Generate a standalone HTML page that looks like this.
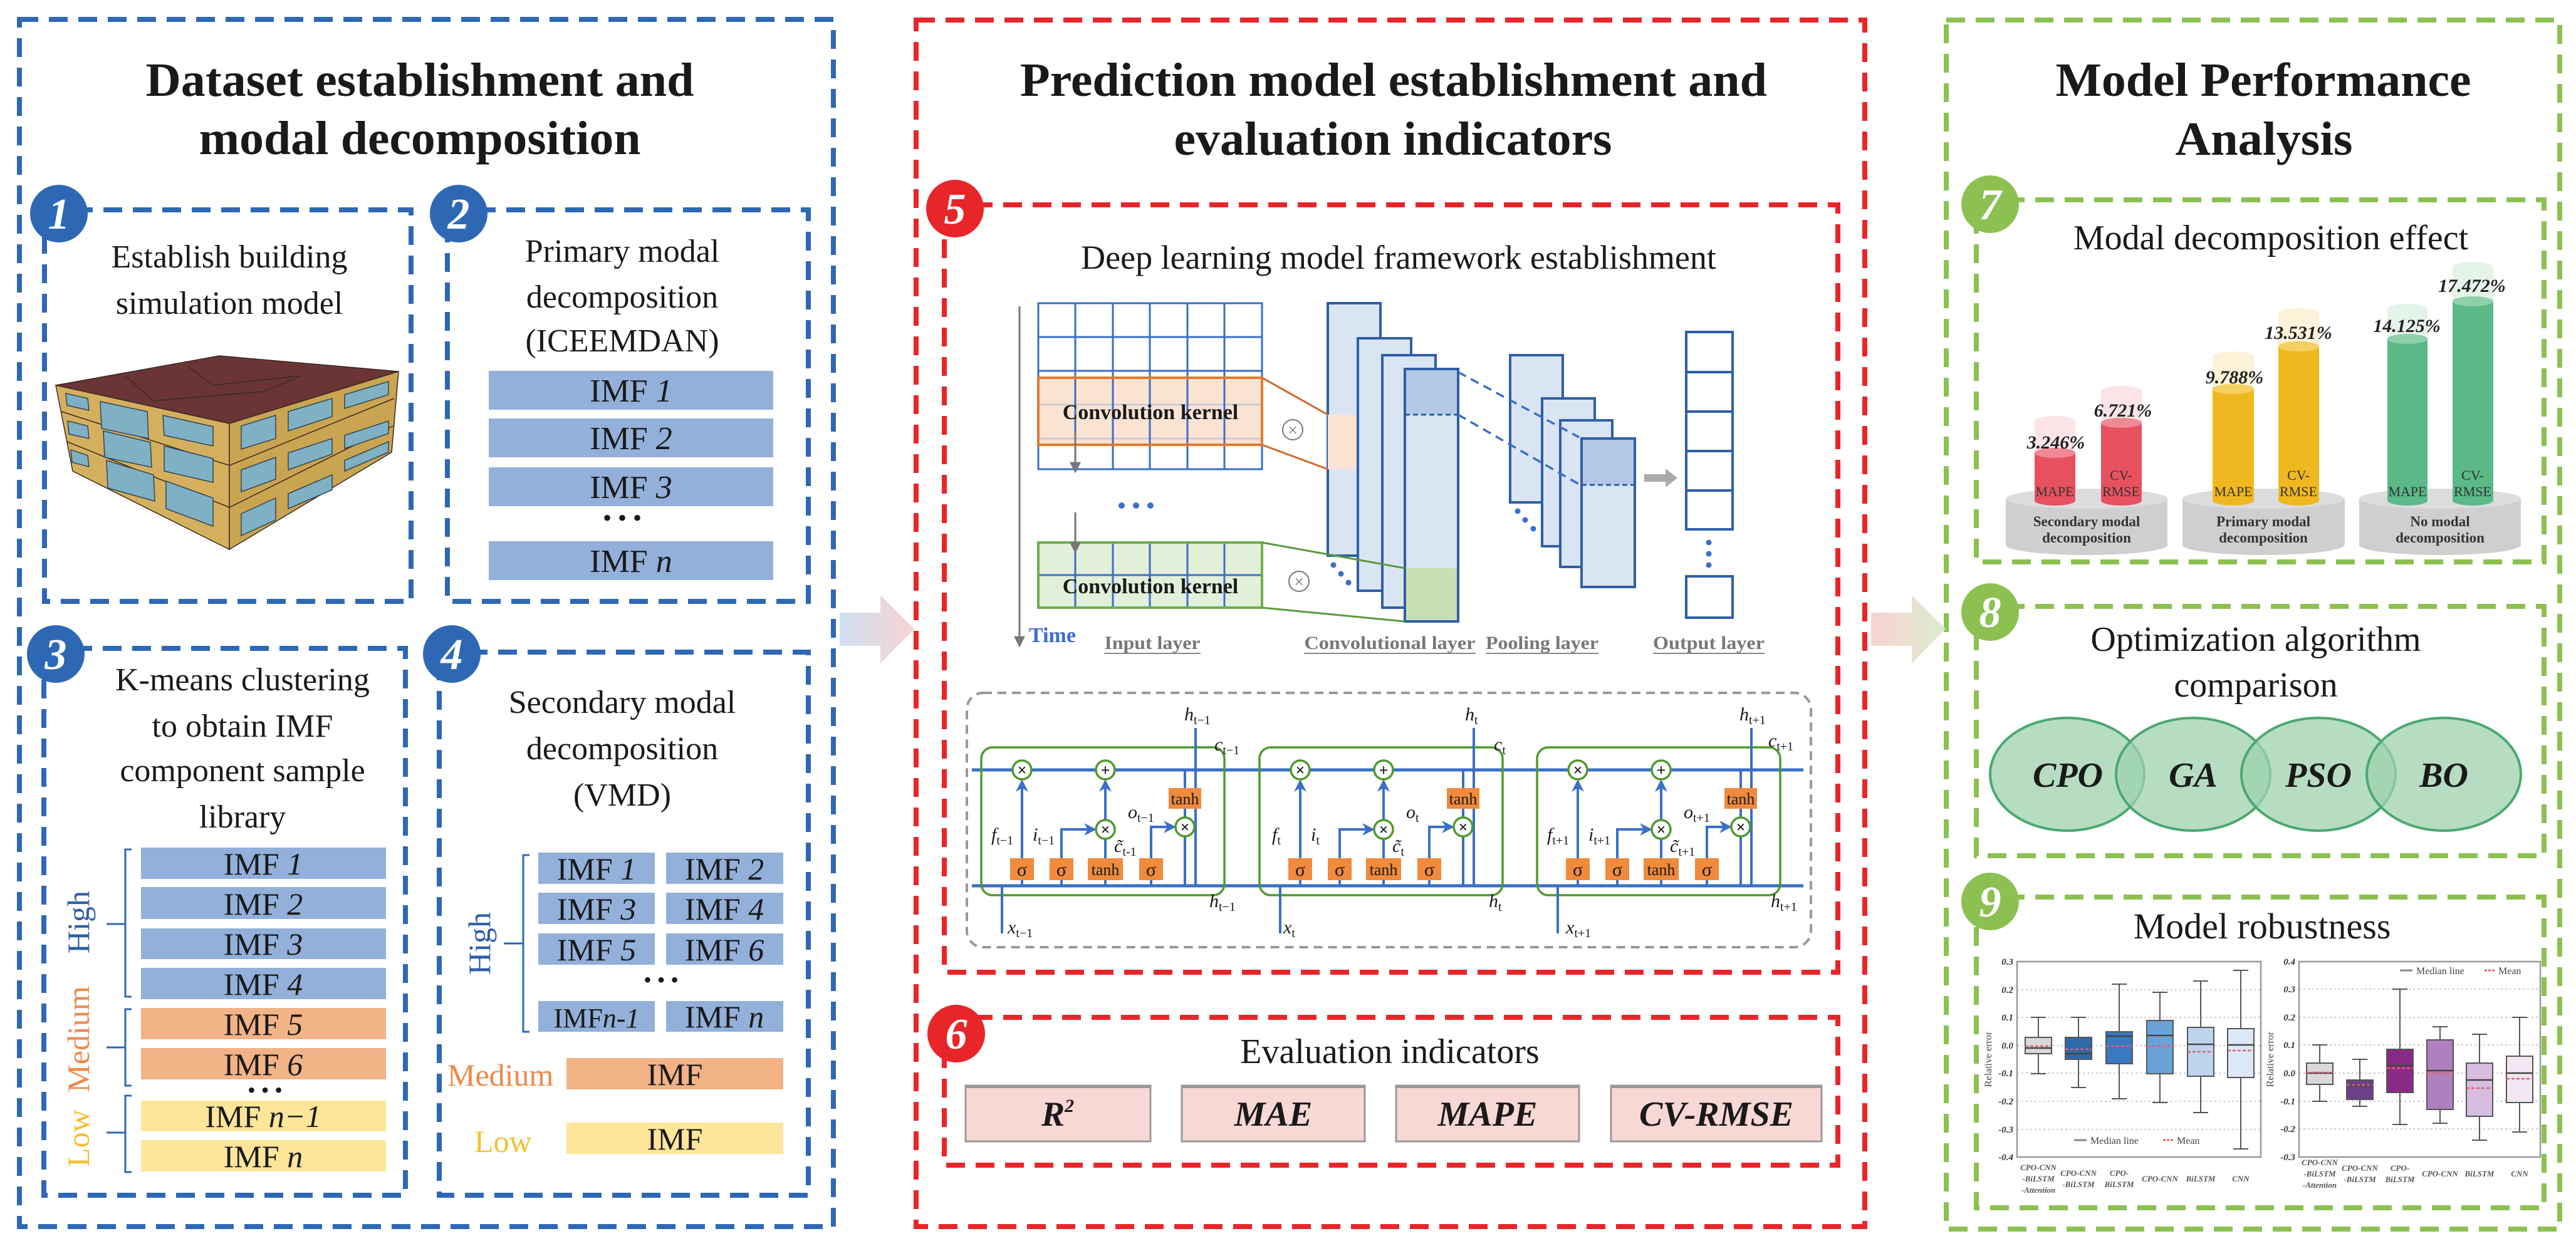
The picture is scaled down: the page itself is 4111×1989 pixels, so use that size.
<!DOCTYPE html>
<html><head><meta charset="utf-8"><style>
html,body{margin:0;padding:0;background:#fff;}
svg{display:block;}
text{font-family:"Liberation Serif",serif;}
</style></head><body>
<svg width="4111" height="1989" viewBox="0 0 4111 1989" xmlns="http://www.w3.org/2000/svg">
<defs>
<marker id="ab" viewBox="0 0 10 10" refX="8" refY="5" markerWidth="5" markerHeight="5" orient="auto"><path d="M0,0 L10,5 L0,10 L3,5 z" fill="#3a6fc7"/></marker>
<marker id="ag" viewBox="0 0 10 10" refX="8" refY="5" markerWidth="6" markerHeight="6" orient="auto"><path d="M0,0 L10,5 L0,10 z" fill="#777"/></marker>
<linearGradient id="g1" x1="0" x2="1" y1="0" y2="0"><stop offset="0" stop-color="#cfe0f3"/><stop offset="1" stop-color="#f8d3cf"/></linearGradient>
<linearGradient id="g2" x1="0" x2="1" y1="0" y2="0"><stop offset="0" stop-color="#f8d3cf"/><stop offset="1" stop-color="#dcecd0"/></linearGradient>
</defs>
<rect width="4111" height="1989" fill="#fff"/>

<g fill="none" stroke-width="8" stroke-dasharray="30 17">
<rect x="31" y="31" width="1299" height="1927" stroke="#2e68b5"/>
<rect x="1462" y="32" width="1514" height="1926" stroke="#e8262a"/>
<rect x="3106" y="32" width="979" height="1930" stroke="#8cc152"/>
</g>

<polygon points="1340,978 1405,978 1405,950 1459,1004 1405,1059 1405,1031 1340,1031" fill="url(#g1)"/>
<polygon points="2986,978 3051,978 3051,950 3105,1004 3051,1059 3051,1031 2986,1031" fill="url(#g2)"/>

<g font-weight="bold" font-size="76" fill="#1a1a1a" text-anchor="middle">
<text x="670" y="153" textLength="875" lengthAdjust="spacingAndGlyphs">Dataset establishment and</text>
<text x="670" y="246" textLength="705" lengthAdjust="spacingAndGlyphs">modal decomposition</text>
<text x="2224" y="153" textLength="1192" lengthAdjust="spacingAndGlyphs">Prediction model establishment and</text>
<text x="2223" y="247" textLength="699" lengthAdjust="spacingAndGlyphs">evaluation indicators</text>
<text x="3612" y="153" textLength="663" lengthAdjust="spacingAndGlyphs">Model Performance</text>
<text x="3613" y="247" textLength="283" lengthAdjust="spacingAndGlyphs">Analysis</text>
</g>

<g fill="none" stroke-width="8" stroke-dasharray="30 17">
<g stroke="#2e68b5">
<rect x="71" y="335" width="585" height="625"/>
<rect x="714" y="335" width="576" height="625"/>
<rect x="70" y="1035" width="577" height="873"/>
<rect x="701" y="1041" width="589" height="867"/>
</g>
<g stroke="#e8262a">
<rect x="1507" y="327" width="1426" height="1225"/>
<rect x="1507" y="1624" width="1426" height="236"/>
</g>
<g stroke="#8cc152">
<rect x="3154" y="319" width="906" height="578"/>
<rect x="3154" y="968" width="906" height="398"/>
<rect x="3154" y="1432" width="906" height="496"/>
</g>
</g>

<g font-weight="bold" font-style="italic" font-size="70" fill="#fff" text-anchor="middle">
<circle cx="94" cy="341" r="46" fill="#2e68b5"/><text x="94" y="365">1</text>
<circle cx="732" cy="341" r="46" fill="#2e68b5"/><text x="732" y="365">2</text>
<circle cx="89" cy="1044" r="46" fill="#2e68b5"/><text x="89" y="1068">3</text>
<circle cx="721" cy="1044" r="46" fill="#2e68b5"/><text x="721" y="1068">4</text>
<circle cx="1524" cy="333" r="46" fill="#e8262a"/><text x="1524" y="357">5</text>
<circle cx="1526" cy="1650" r="46" fill="#e8262a"/><text x="1526" y="1674">6</text>
<circle cx="3176" cy="326" r="46" fill="#8cc152"/><text x="3176" y="350">7</text>
<circle cx="3176" cy="977" r="46" fill="#8cc152"/><text x="3176" y="1001">8</text>
<circle cx="3176" cy="1439" r="46" fill="#8cc152"/><text x="3176" y="1463">9</text>
</g>

<g font-size="52" fill="#1a1a1a" text-anchor="middle">
<text x="366" y="427">Establish building</text>
<text x="366" y="501">simulation model</text>
</g>
<g stroke="#3a2a20" stroke-width="1.5">
<polygon points="89,615 350,568 636,593 366,676" fill="#6b3535"/>
<polygon points="89,615 366,676 366,877 116,752" fill="#d4b05e"/>
<polygon points="366,676 636,593 625,722 366,877" fill="#c9a552"/>
<polyline points="98,657 366,743 629,636" fill="none"/>
<polyline points="107,705 366,810 627,680" fill="none"/>
<polyline points="200,600 245,640 420,625 470,605" fill="none"/>
<polyline points="300,585 340,615 480,600" fill="none"/>
</g>
<g fill="#7fb0c4" stroke="#345" stroke-width="1.5">
<polygon points="105,628 140,636 142,655 107,647"/><polygon points="160,641 235,657 237,700 162,684"/><polygon points="260,663 340,681 340,712 262,695"/>
<polygon points="108,672 140,680 142,700 110,693"/><polygon points="165,688 240,706 242,746 167,730"/><polygon points="262,712 340,732 340,770 262,752"/>
<polygon points="113,718 140,727 142,745 115,738"/><polygon points="170,735 245,758 247,800 172,779"/><polygon points="265,768 340,795 340,840 265,812"/>
<polygon points="385,680 440,663 440,700 385,717"/><polygon points="460,657 530,636 530,665 460,688"/><polygon points="550,630 620,609 620,630 550,652"/>
<polygon points="385,750 440,730 440,765 385,785"/><polygon points="460,723 530,700 530,725 460,750"/><polygon points="550,695 620,672 620,692 550,716"/>
<polygon points="385,820 440,795 440,830 385,855"/><polygon points="460,788 530,758 530,782 460,812"/><polygon points="550,752 620,722 620,705 550,735"/>
</g>

<g font-size="52" fill="#1a1a1a" text-anchor="middle">
<text x="993" y="418">Primary modal</text>
<text x="993" y="491">decomposition</text>
<text x="993" y="561">(ICEEMDAN)</text>
</g>
<g fill="#92b0d9">
<rect x="780" y="592" width="454" height="62"/>
<rect x="780" y="668" width="454" height="62"/>
<rect x="780" y="746" width="454" height="62"/>
<rect x="780" y="864" width="454" height="62"/>
</g>
<g font-size="52" fill="#1a1a1a" text-anchor="middle">
<text x="1007" y="641">IMF <tspan font-style="italic">1</tspan></text>
<text x="1007" y="717">IMF <tspan font-style="italic">2</tspan></text>
<text x="1007" y="795">IMF <tspan font-style="italic">3</tspan></text>
<text x="993" y="840" font-size="40">• • •</text>
<text x="1007" y="913">IMF <tspan font-style="italic">n</tspan></text>
</g>

<g font-size="52" fill="#1a1a1a" text-anchor="middle">
<text x="387" y="1102">K-means clustering</text>
<text x="387" y="1176">to obtain IMF</text>
<text x="387" y="1247">component sample</text>
<text x="387" y="1321">library</text>
</g>
<g>
<rect x="225" y="1353" width="391" height="50" fill="#92b0d9"/>
<rect x="225" y="1416" width="391" height="51" fill="#92b0d9"/>
<rect x="225" y="1482" width="391" height="49" fill="#92b0d9"/>
<rect x="225" y="1545" width="391" height="50" fill="#92b0d9"/>
<rect x="225" y="1609" width="391" height="50" fill="#f2b387"/>
<rect x="225" y="1673" width="391" height="50" fill="#f2b387"/>
<rect x="225" y="1757" width="391" height="49" fill="#fde59a"/>
<rect x="225" y="1820" width="391" height="50" fill="#fde59a"/>
</g>
<g font-size="50" fill="#1a1a1a" text-anchor="middle">
<text x="420" y="1396">IMF <tspan font-style="italic">1</tspan></text>
<text x="420" y="1460">IMF <tspan font-style="italic">2</tspan></text>
<text x="420" y="1524">IMF <tspan font-style="italic">3</tspan></text>
<text x="420" y="1588">IMF <tspan font-style="italic">4</tspan></text>
<text x="420" y="1652">IMF <tspan font-style="italic">5</tspan></text>
<text x="420" y="1716">IMF <tspan font-style="italic">6</tspan></text>
<text x="423" y="1752" font-size="36">• • •</text>
<text x="420" y="1799">IMF <tspan font-style="italic">n−1</tspan></text>
<text x="420" y="1863">IMF <tspan font-style="italic">n</tspan></text>
</g>
<g fill="none" stroke-width="3">
<path d="M210,1356 H200 V1591 H210 M200,1475 H170" stroke="#2e68b5"/>
<path d="M210,1611 H200 V1733 H210 M200,1672 H170" stroke="#2e68b5"/>
<path d="M210,1749 H200 V1871 H210 M200,1808 H170" stroke="#2e68b5"/>
</g>
<g font-size="50" text-anchor="middle">
<text transform="translate(142,1472) rotate(-90)" fill="#2e5ea8">High</text>
<text transform="translate(142,1659) rotate(-90)" fill="#ee8a4a">Medium</text>
<text transform="translate(142,1817) rotate(-90)" fill="#f5c030">Low</text>
</g>

<g font-size="52" fill="#1a1a1a" text-anchor="middle">
<text x="993" y="1138">Secondary modal</text>
<text x="993" y="1212">decomposition</text>
<text x="993" y="1286">(VMD)</text>
</g>
<g fill="#92b0d9">
<rect x="859" y="1361" width="186" height="50"/><rect x="1063" y="1361" width="187" height="50"/>
<rect x="859" y="1425" width="186" height="50"/><rect x="1063" y="1425" width="187" height="50"/>
<rect x="859" y="1490" width="186" height="50"/><rect x="1063" y="1490" width="187" height="50"/>
<rect x="859" y="1598" width="186" height="49"/><rect x="1063" y="1598" width="187" height="49"/>
</g>
<rect x="904" y="1689" width="346" height="50" fill="#f2b387"/>
<rect x="904" y="1792" width="346" height="50" fill="#fde59a"/>
<g font-size="50" fill="#1a1a1a" text-anchor="middle">
<text x="952" y="1404">IMF <tspan font-style="italic">1</tspan></text><text x="1156" y="1404">IMF <tspan font-style="italic">2</tspan></text>
<text x="952" y="1468">IMF <tspan font-style="italic">3</tspan></text><text x="1156" y="1468">IMF <tspan font-style="italic">4</tspan></text>
<text x="952" y="1533">IMF <tspan font-style="italic">5</tspan></text><text x="1156" y="1533">IMF <tspan font-style="italic">6</tspan></text>
<text x="1055" y="1576" font-size="36">• • •</text>
<text x="952" y="1640" font-size="44">IMF<tspan font-style="italic">n-1</tspan></text><text x="1156" y="1640">IMF <tspan font-style="italic">n</tspan></text>
<text x="1077" y="1732">IMF</text>
<text x="1077" y="1835">IMF</text>
</g>
<path d="M845,1365 H835 V1647 H845 M835,1506 H804" fill="none" stroke="#2e68b5" stroke-width="3"/>
<text transform="translate(782,1506) rotate(-90)" font-size="50" text-anchor="middle" fill="#2e5ea8">High</text>
<text x="714" y="1733" font-size="50" fill="#ee8a4a">Medium</text>
<text x="757" y="1839" font-size="50" fill="#f5c030">Low</text>

<text x="2232" y="429" font-size="54" text-anchor="middle" fill="#1a1a1a">Deep learning model framework establishment</text>
<line x1="1627" y1="489" x2="1627" y2="1030" stroke="#777" stroke-width="3" marker-end="url(#ag)"/>
<text x="1642" y="1025" font-size="34" font-weight="bold" fill="#3a6fc7">Time</text>
<rect x="1657" y="603" width="357" height="107" fill="#fbe3d3"/>
<rect x="1657" y="866" width="357" height="104" fill="#e2efd9"/>
<g stroke="#3a6fc7" stroke-width="3" fill="none">
<rect x="1657" y="484" width="357" height="265"/>
<line x1="1657" y1="538" x2="2014" y2="538"/><line x1="1657" y1="592" x2="2014" y2="592"/><line x1="1657" y1="646" x2="2014" y2="646" stroke="#c9c9d9"/><line x1="1657" y1="700" x2="2014" y2="700" stroke="#c9c9d9"/>
<line x1="1716" y1="484" x2="1716" y2="749"/><line x1="1776" y1="484" x2="1776" y2="749"/><line x1="1835" y1="484" x2="1835" y2="749"/><line x1="1895" y1="484" x2="1895" y2="749"/><line x1="1954" y1="484" x2="1954" y2="749"/>
<line x1="1657" y1="918" x2="2014" y2="918"/>
<line x1="1716" y1="866" x2="1716" y2="970"/><line x1="1776" y1="866" x2="1776" y2="970"/><line x1="1835" y1="866" x2="1835" y2="970"/><line x1="1895" y1="866" x2="1895" y2="970"/><line x1="1954" y1="866" x2="1954" y2="970"/>
</g>
<rect x="1657" y="603" width="357" height="107" fill="none" stroke="#e07b30" stroke-width="4"/>
<rect x="1657" y="866" width="357" height="104" fill="none" stroke="#6ab04c" stroke-width="4"/>
<g font-size="34" font-weight="bold" text-anchor="middle" fill="#1a1a1a">
<text x="1836" y="669">Convolution kernel</text>
<text x="1836" y="947">Convolution kernel</text>
</g>
<line x1="1716" y1="690" x2="1716" y2="752" stroke="#777" stroke-width="3" marker-end="url(#ag)"/>
<line x1="1716" y1="818" x2="1716" y2="880" stroke="#777" stroke-width="3" marker-end="url(#ag)"/>
<g fill="#3a6fc7"><circle cx="1790" cy="807" r="5"/><circle cx="1813" cy="807" r="5"/><circle cx="1836" cy="807" r="5"/></g>
<g stroke="#2f5ea8" stroke-width="4" fill="#dae5f4">
<rect x="2119" y="484" width="84" height="403"/>
<rect x="2119" y="662" width="46" height="87" fill="#fbe3d3" stroke="none"/>
<rect x="2167" y="540" width="85" height="403"/>
<rect x="2206" y="567" width="85" height="403"/>
<rect x="2242" y="589" width="85" height="403"/>
<rect x="2244" y="591" width="81" height="71" fill="#b4c8e8" stroke="none"/>
<rect x="2244" y="907" width="81" height="83" fill="#c6e0b4" stroke="none"/>
</g>
<line x1="2242" y1="662" x2="2327" y2="662" stroke="#2f5ea8" stroke-width="3" stroke-dasharray="8 5"/>
<g stroke-width="3" fill="none">
<path d="M2014,603 L2119,662 M2014,710 L2119,749" stroke="#d0692a"/>
<path d="M2014,866 L2242,907 M2014,970 L2242,992" stroke="#5a9a3c"/>
</g>
<g fill="none" stroke="#777" stroke-width="2"><circle cx="2063" cy="686" r="16"/><circle cx="2073" cy="928" r="16"/></g>
<g font-size="28" fill="#777" text-anchor="middle"><text x="2063" y="696">×</text><text x="2073" y="938">×</text></g>
<g fill="#3a6fc7"><circle cx="2128" cy="902" r="4.5"/><circle cx="2140" cy="916" r="4.5"/><circle cx="2152" cy="930" r="4.5"/></g>
<g stroke="#2f5ea8" stroke-width="4" fill="#dae5f4">
<rect x="2410" y="567" width="84" height="235"/>
<rect x="2461" y="636" width="84" height="236"/>
<rect x="2490" y="671" width="83" height="234"/>
<rect x="2524" y="700" width="85" height="237"/>
<rect x="2526" y="702" width="81" height="72" fill="#b4c8e8" stroke="none"/>
</g>
<line x1="2524" y1="774" x2="2609" y2="774" stroke="#2f5ea8" stroke-width="3" stroke-dasharray="8 5"/>
<g stroke="#3a6fc7" stroke-width="3.5" stroke-dasharray="14 9"><line x1="2327" y1="594" x2="2520" y2="698"/><line x1="2327" y1="662" x2="2520" y2="773"/></g>
<g fill="#3a6fc7"><circle cx="2422" cy="816" r="4.5"/><circle cx="2434" cy="830" r="4.5"/><circle cx="2447" cy="844" r="4.5"/></g>
<polygon points="2624,757 2658,757 2658,748 2677,763 2658,778 2658,769 2624,769" fill="#aaa"/>
<g fill="#fff" stroke="#2f5ea8" stroke-width="4">
<rect x="2691" y="530" width="74" height="64"/><rect x="2691" y="594" width="74" height="63"/><rect x="2691" y="657" width="74" height="63"/><rect x="2691" y="720" width="74" height="63"/><rect x="2691" y="783" width="74" height="62"/><rect x="2691" y="920" width="74" height="66"/>
</g>
<g fill="#3a6fc7"><circle cx="2727" cy="866" r="4.5"/><circle cx="2727" cy="884" r="4.5"/><circle cx="2727" cy="902" r="4.5"/></g>
<g font-size="30" font-weight="bold" fill="#777" text-anchor="middle">
<text x="1839" y="1036" textLength="153" lengthAdjust="spacingAndGlyphs">Input layer</text>
<text x="2218" y="1036" textLength="273" lengthAdjust="spacingAndGlyphs">Convolutional layer</text>
<text x="2461" y="1036" textLength="180" lengthAdjust="spacingAndGlyphs">Pooling layer</text>
<text x="2727" y="1036" textLength="178" lengthAdjust="spacingAndGlyphs">Output layer</text>
</g>
<g stroke="#888" stroke-width="2"><line x1="1762" y1="1043" x2="1916" y2="1043"/><line x1="2081" y1="1043" x2="2355" y2="1043"/><line x1="2371" y1="1043" x2="2551" y2="1043"/><line x1="2638" y1="1043" x2="2816" y2="1043"/></g>

<rect x="1543" y="1106" width="1347" height="406" rx="26" fill="none" stroke="#999" stroke-width="4" stroke-dasharray="14 9"/>
<line x1="1551" y1="1229" x2="2878" y2="1229" stroke="#3a6fc7" stroke-width="5"/>
<line x1="1551" y1="1414" x2="2878" y2="1414" stroke="#3a6fc7" stroke-width="5"/>
<g id="cell">
<rect x="1566" y="1193" width="388" height="236" rx="18" fill="none" stroke="#4e9a2a" stroke-width="3.5"/>
<g stroke="#3a6fc7" stroke-width="4" fill="none">
<line x1="1631" y1="1370" x2="1631" y2="1248" marker-end="url(#ab)"/>
<line x1="1764" y1="1370" x2="1764" y2="1339"/>
<line x1="1764" y1="1309" x2="1764" y2="1248" marker-end="url(#ab)"/>
<polyline points="1694,1370 1694,1324 1746,1324" marker-end="url(#ab)"/>
<polyline points="1837,1370 1837,1320 1873,1320" marker-end="url(#ab)"/>
<line x1="1891" y1="1229" x2="1891" y2="1305"/>
<polyline points="1891,1335 1891,1414"/>
<line x1="1908" y1="1162" x2="1908" y2="1414"/>
<line x1="1599" y1="1414" x2="1599" y2="1490"/>
<line x1="1631" y1="1405" x2="1631" y2="1414"/><line x1="1694" y1="1405" x2="1694" y2="1414"/><line x1="1764" y1="1405" x2="1764" y2="1414"/><line x1="1837" y1="1405" x2="1837" y2="1414"/>
</g>
<g fill="#f08a3c">
<rect x="1612" y="1370" width="38" height="35"/><rect x="1675" y="1370" width="38" height="35"/><rect x="1736" y="1370" width="56" height="35"/><rect x="1818" y="1370" width="38" height="35"/><rect x="1865" y="1258" width="52" height="33"/>
</g>
<g font-size="30" fill="#1a1a1a" text-anchor="middle">
<text x="1631" y="1398">σ</text><text x="1694" y="1398">σ</text><text x="1764" y="1397" font-size="26">tanh</text><text x="1837" y="1398">σ</text><text x="1891" y="1284" font-size="26">tanh</text>
</g>
<g fill="#fff" stroke="#4e9a2a" stroke-width="3.5">
<circle cx="1631" cy="1229" r="15"/><circle cx="1764" cy="1229" r="15"/><circle cx="1764" cy="1324" r="15"/><circle cx="1891" cy="1320" r="15"/>
</g>
<g font-size="26" font-weight="bold" fill="#1a1a1a" text-anchor="middle">
<text x="1631" y="1238">×</text><text x="1764" y="1238">+</text><text x="1764" y="1333">×</text><text x="1891" y="1329">×</text>
</g>
</g>
<use href="#cell" x="444"/>
<use href="#cell" x="887"/>
<g font-size="30" font-style="italic" fill="#1a1a1a">
<text x="1582" y="1342">f<tspan font-size="20" font-style="normal" dy="6">t−1</tspan></text>
<text x="1648" y="1342">i<tspan font-size="20" font-style="normal" dy="6">t−1</tspan></text>
<text x="1800" y="1306">o<tspan font-size="20" font-style="normal" dy="6">t−1</tspan></text>
<text x="1778" y="1360">c̃<tspan font-size="20" font-style="normal" dy="6">t-1</tspan></text>
<text x="2030" y="1342">f<tspan font-size="20" font-style="normal" dy="6">t</tspan></text>
<text x="2092" y="1342">i<tspan font-size="20" font-style="normal" dy="6">t</tspan></text>
<text x="2244" y="1306">o<tspan font-size="20" font-style="normal" dy="6">t</tspan></text>
<text x="2222" y="1360">c̃<tspan font-size="20" font-style="normal" dy="6">t</tspan></text>
<text x="2469" y="1342">f<tspan font-size="20" font-style="normal" dy="6">t+1</tspan></text>
<text x="2535" y="1342">i<tspan font-size="20" font-style="normal" dy="6">t+1</tspan></text>
<text x="2687" y="1306">o<tspan font-size="20" font-style="normal" dy="6">t+1</tspan></text>
<text x="2665" y="1360">c̃<tspan font-size="20" font-style="normal" dy="6">t+1</tspan></text>
<text x="1890" y="1150">h<tspan font-size="20" font-style="normal" dy="6">t−1</tspan></text>
<text x="1938" y="1198">c<tspan font-size="20" font-style="normal" dy="6">t−1</tspan></text>
<text x="2338" y="1150">h<tspan font-size="20" font-style="normal" dy="6">t</tspan></text>
<text x="2384" y="1198">c<tspan font-size="20" font-style="normal" dy="6">t</tspan></text>
<text x="2776" y="1150">h<tspan font-size="20" font-style="normal" dy="6">t+1</tspan></text>
<text x="2822" y="1192">c<tspan font-size="20" font-style="normal" dy="6">t+1</tspan></text>
<text x="1930" y="1448">h<tspan font-size="20" font-style="normal" dy="6">t−1</tspan></text>
<text x="2376" y="1448">h<tspan font-size="20" font-style="normal" dy="6">t</tspan></text>
<text x="2826" y="1448">h<tspan font-size="20" font-style="normal" dy="6">t+1</tspan></text>
<text x="1608" y="1490">x<tspan font-size="20" font-style="normal" dy="6">t−1</tspan></text>
<text x="2048" y="1490">x<tspan font-size="20" font-style="normal" dy="6">t</tspan></text>
<text x="2499" y="1490">x<tspan font-size="20" font-style="normal" dy="6">t+1</tspan></text>
</g>

<text x="2218" y="1697" font-size="56" text-anchor="middle" fill="#1a1a1a">Evaluation indicators</text>
<g fill="#f8d8d4" stroke="#999" stroke-width="3">
<rect x="1541" y="1733" width="295" height="89"/><rect x="1886" y="1733" width="292" height="89"/><rect x="2228" y="1733" width="292" height="89"/><rect x="2571" y="1733" width="336" height="89"/>
</g>
<g stroke="#999" stroke-width="4"><line x1="1541" y1="1735" x2="1836" y2="1735"/><line x1="1886" y1="1735" x2="2178" y2="1735"/><line x1="2228" y1="1735" x2="2520" y2="1735"/><line x1="2571" y1="1735" x2="2907" y2="1735"/></g>
<g font-size="56" font-weight="bold" font-style="italic" fill="#1a1a1a" text-anchor="middle">
<text x="1688" y="1797">R<tspan font-size="30" dy="-22">2</tspan></text>
<text x="2032" y="1797">MAE</text>
<text x="2374" y="1797">MAPE</text>
<text x="2739" y="1797">CV-RMSE</text>
</g>

<text x="3624" y="398" font-size="56" text-anchor="middle" fill="#1a1a1a">Modal decomposition effect</text>
<g fill="#cfcfd1">
<rect x="3201" y="796" width="258" height="74"/><ellipse cx="3330" cy="870" rx="129" ry="16"/>
<rect x="3483" y="796" width="259" height="74"/><ellipse cx="3612" cy="870" rx="129" ry="16"/>
<rect x="3765" y="796" width="258" height="74"/><ellipse cx="3894" cy="870" rx="129" ry="16"/>
</g>
<g fill="#dcdcde"><ellipse cx="3330" cy="796" rx="129" ry="16"/><ellipse cx="3612" cy="796" rx="129" ry="16"/><ellipse cx="3894" cy="796" rx="129" ry="16"/></g>
<g opacity="0.35">
<rect x="3247" y="672" width="65" height="51" fill="#f5b5bc"/><ellipse cx="3279.5" cy="672" rx="32.5" ry="8" fill="#f5b5bc"/>
<rect x="3353" y="624" width="65" height="51" fill="#f5b5bc"/><ellipse cx="3385.5" cy="624" rx="32.5" ry="8" fill="#f5b5bc"/>
<rect x="3531" y="569" width="66" height="52" fill="#f8dc90"/><ellipse cx="3564" cy="569" rx="33" ry="8" fill="#f8dc90"/>
<rect x="3636" y="500" width="65" height="53" fill="#f8dc90"/><ellipse cx="3668.5" cy="500" rx="32.5" ry="8" fill="#f8dc90"/>
<rect x="3810" y="493" width="64" height="48" fill="#b6e0c8"/><ellipse cx="3842" cy="493" rx="32" ry="8" fill="#b6e0c8"/>
<rect x="3914" y="426" width="65" height="55" fill="#b6e0c8"/><ellipse cx="3946.5" cy="426" rx="32.5" ry="8" fill="#b6e0c8"/>
</g>
<g>
<rect x="3247" y="723" width="65" height="76" fill="#e8515f"/><ellipse cx="3279.5" cy="799" rx="32.5" ry="8" fill="#e8515f"/><ellipse cx="3279.5" cy="723" rx="32.5" ry="8" fill="#ef8a94"/>
<rect x="3353" y="675" width="65" height="124" fill="#e8515f"/><ellipse cx="3385.5" cy="799" rx="32.5" ry="8" fill="#e8515f"/><ellipse cx="3385.5" cy="675" rx="32.5" ry="8" fill="#ef8a94"/>
<rect x="3531" y="621" width="66" height="178" fill="#f0b820"/><ellipse cx="3564" cy="799" rx="33" ry="8" fill="#f0b820"/><ellipse cx="3564" cy="621" rx="33" ry="8" fill="#f5d060"/>
<rect x="3636" y="553" width="65" height="246" fill="#f0b820"/><ellipse cx="3668.5" cy="799" rx="32.5" ry="8" fill="#f0b820"/><ellipse cx="3668.5" cy="553" rx="32.5" ry="8" fill="#f5d060"/>
<rect x="3810" y="541" width="64" height="258" fill="#5bb887"/><ellipse cx="3842" cy="799" rx="32" ry="8" fill="#5bb887"/><ellipse cx="3842" cy="541" rx="32" ry="8" fill="#8fd0aa"/>
<rect x="3914" y="481" width="65" height="318" fill="#5bb887"/><ellipse cx="3946.5" cy="799" rx="32.5" ry="8" fill="#5bb887"/><ellipse cx="3946.5" cy="481" rx="32.5" ry="8" fill="#8fd0aa"/>
</g>
<g font-size="22" fill="#333" text-anchor="middle">
<text x="3279" y="792">MAPE</text><text x="3385" y="766">CV-</text><text x="3385" y="792">RMSE</text>
<text x="3564" y="792">MAPE</text><text x="3668" y="766">CV-</text><text x="3668" y="792">RMSE</text>
<text x="3842" y="792">MAPE</text><text x="3946" y="766">CV-</text><text x="3946" y="792">RMSE</text>
</g>
<g font-size="30" font-weight="bold" font-style="italic" fill="#222" text-anchor="middle">
<text x="3281" y="716">3.246%</text><text x="3388" y="665">6.721%</text>
<text x="3566" y="612">9.788%</text><text x="3668" y="541">13.531%</text>
<text x="3841" y="530">14.125%</text><text x="3945" y="466">17.472%</text>
</g>
<g font-size="23" font-weight="bold" fill="#333" text-anchor="middle">
<text x="3330" y="840">Secondary modal</text><text x="3330" y="866">decomposition</text>
<text x="3612" y="840">Primary modal</text><text x="3612" y="866">decomposition</text>
<text x="3894" y="840">No modal</text><text x="3894" y="866">decomposition</text>
</g>

<g font-size="56" text-anchor="middle" fill="#1a1a1a">
<text x="3600" y="1039">Optimization algorithm</text>
<text x="3600" y="1112">comparison</text>
</g>
<g fill="#9dd2ae" fill-opacity="0.75" stroke="#4aa870" stroke-width="4">
<ellipse cx="3299" cy="1236" rx="123" ry="90"/>
<ellipse cx="3500" cy="1236" rx="123" ry="90"/>
<ellipse cx="3700" cy="1236" rx="123" ry="90"/>
<ellipse cx="3900" cy="1236" rx="123" ry="90"/>
</g>
<g font-size="56" font-weight="bold" font-style="italic" fill="#1a1a1a" text-anchor="middle">
<text x="3300" y="1256">CPO</text><text x="3500" y="1256">GA</text><text x="3700" y="1256">PSO</text><text x="3900" y="1256">BO</text>
</g>

<text x="3610" y="1498" font-size="58" text-anchor="middle" fill="#1a1a1a">Model robustness</text>
<g stroke="#bbb" stroke-width="1.5" stroke-dasharray="3 4">
<line x1="3219" y1="1580" x2="3608" y2="1580"/><line x1="3219" y1="1624" x2="3608" y2="1624"/><line x1="3219" y1="1669" x2="3608" y2="1669"/><line x1="3219" y1="1713" x2="3608" y2="1713"/><line x1="3219" y1="1758" x2="3608" y2="1758"/><line x1="3219" y1="1803" x2="3608" y2="1803"/>
<line x1="3669" y1="1579" x2="4054" y2="1579"/><line x1="3669" y1="1624" x2="4054" y2="1624"/><line x1="3669" y1="1668" x2="4054" y2="1668"/><line x1="3669" y1="1713" x2="4054" y2="1713"/><line x1="3669" y1="1758" x2="4054" y2="1758"/><line x1="3669" y1="1802" x2="4054" y2="1802"/>
</g>
<rect x="3219" y="1535" width="389" height="312" fill="none" stroke="#999" stroke-width="2.5"/>
<rect x="3669" y="1535" width="385" height="312" fill="none" stroke="#999" stroke-width="2.5"/>
<g stroke="#555" stroke-width="2" fill="none">
<path d="M3253,1624V1714M3241,1624H3265M3241,1714H3265"/>
<path d="M3317,1624V1736M3305,1624H3329M3305,1736H3329"/>
<path d="M3382,1571V1754M3370,1571H3394M3370,1754H3394"/>
<path d="M3447,1584V1760M3435,1584H3459M3435,1760H3459"/>
<path d="M3512,1566V1776M3500,1566H3524M3500,1776H3524"/>
<path d="M3576,1549V1834M3564,1549H3588M3564,1834H3588"/>
<path d="M3702,1668V1758M3690,1668H3714M3690,1758H3714"/>
<path d="M3766,1691V1766M3754,1691H3778M3754,1766H3778"/>
<path d="M3830,1579V1795M3818,1579H3842M3818,1795H3842"/>
<path d="M3894,1639V1793M3882,1639H3906M3882,1793H3906"/>
<path d="M3957,1651V1820M3945,1651H3969M3945,1820H3969"/>
<path d="M4021,1624V1807M4009,1624H4033M4009,1807H4033"/>
</g>
<g stroke="#555" stroke-width="2">
<rect x="3232" y="1656" width="42" height="26" fill="#d9d9d9"/>
<rect x="3296" y="1656" width="42" height="35" fill="#2f6aa8"/>
<rect x="3361" y="1647" width="42" height="51" fill="#3a78c0"/>
<rect x="3426" y="1629" width="42" height="85" fill="#6aa2d6"/>
<rect x="3491" y="1640" width="42" height="78" fill="#bcd4ee"/>
<rect x="3555" y="1642" width="42" height="78" fill="#dce8f6"/>
<rect x="3681" y="1697" width="42" height="34" fill="#d9d9d9"/>
<rect x="3745" y="1724" width="42" height="31" fill="#6b3f8a"/>
<rect x="3809" y="1675" width="42" height="69" fill="#8b2a86"/>
<rect x="3873" y="1660" width="42" height="111" fill="#b07fc0"/>
<rect x="3936" y="1697" width="42" height="85" fill="#d7bde0"/>
<rect x="4000" y="1686" width="42" height="74" fill="#f3e6f3"/>
</g>
<g stroke="#444" stroke-width="2.5">
<line x1="3232" y1="1673" x2="3274" y2="1673"/><line x1="3296" y1="1682" x2="3338" y2="1682"/><line x1="3361" y1="1654" x2="3403" y2="1654"/><line x1="3426" y1="1653" x2="3468" y2="1653"/><line x1="3491" y1="1667" x2="3533" y2="1667"/><line x1="3555" y1="1668" x2="3597" y2="1668"/>
<line x1="3681" y1="1713" x2="3723" y2="1713"/><line x1="3745" y1="1733" x2="3787" y2="1733"/><line x1="3809" y1="1701" x2="3851" y2="1701"/><line x1="3873" y1="1709" x2="3915" y2="1709"/><line x1="3936" y1="1724" x2="3978" y2="1724"/><line x1="4000" y1="1713" x2="4042" y2="1713"/>
</g>
<g stroke="#e06070" stroke-width="2.5" stroke-dasharray="5 3">
<line x1="3232" y1="1670" x2="3274" y2="1670"/><line x1="3296" y1="1675" x2="3338" y2="1675"/><line x1="3361" y1="1670" x2="3403" y2="1670"/><line x1="3426" y1="1670" x2="3468" y2="1670"/><line x1="3491" y1="1679" x2="3533" y2="1679"/><line x1="3555" y1="1677" x2="3597" y2="1677"/>
<line x1="3681" y1="1712" x2="3723" y2="1712"/><line x1="3745" y1="1732" x2="3787" y2="1732"/><line x1="3809" y1="1705" x2="3851" y2="1705"/><line x1="3873" y1="1713" x2="3915" y2="1713"/><line x1="3936" y1="1737" x2="3978" y2="1737"/><line x1="4000" y1="1722" x2="4042" y2="1722"/>
</g>
<g font-size="15" font-weight="bold" font-style="italic" fill="#333" text-anchor="end">
<text x="3213" y="1540">0.3</text><text x="3213" y="1585">0.2</text><text x="3213" y="1629">0.1</text><text x="3213" y="1674">0.0</text><text x="3213" y="1718">-0.1</text><text x="3213" y="1763">-0.2</text><text x="3213" y="1808">-0.3</text><text x="3213" y="1852">-0.4</text>
<text x="3663" y="1540">0.4</text><text x="3663" y="1584">0.3</text><text x="3663" y="1629">0.2</text><text x="3663" y="1673">0.1</text><text x="3663" y="1718">0.0</text><text x="3663" y="1763">-0.1</text><text x="3663" y="1807">-0.2</text><text x="3663" y="1852">-0.3</text>
</g>
<g font-size="16" fill="#444" text-anchor="middle">
<text transform="translate(3178,1691) rotate(-90)">Relative error</text>
<text transform="translate(3628,1691) rotate(-90)">Relative error</text>
</g>
<g font-size="16" fill="#444">
<line x1="3310" y1="1820" x2="3330" y2="1820" stroke="#888" stroke-width="3"/><text x="3336" y="1826">Median line</text>
<line x1="3452" y1="1820" x2="3470" y2="1820" stroke="#e06070" stroke-width="3" stroke-dasharray="4 2"/><text x="3474" y="1826">Mean</text>
<line x1="3830" y1="1549" x2="3850" y2="1549" stroke="#888" stroke-width="3"/><text x="3856" y="1555">Median line</text>
<line x1="3965" y1="1549" x2="3983" y2="1549" stroke="#e06070" stroke-width="3" stroke-dasharray="4 2"/><text x="3987" y="1555">Mean</text>
</g>
<g font-size="13" font-weight="bold" font-style="italic" fill="#555" text-anchor="middle">
<text x="3253" y="1868">CPO-CNN</text><text x="3253" y="1886">-BiLSTM</text><text x="3253" y="1904">-Attention</text>
<text x="3317" y="1877">CPO-CNN</text><text x="3317" y="1895">-BiLSTM</text>
<text x="3382" y="1877">CPO-</text><text x="3382" y="1895">BiLSTM</text>
<text x="3447" y="1886">CPO-CNN</text><text x="3512" y="1886">BiLSTM</text><text x="3576" y="1886">CNN</text>
<text x="3702" y="1860">CPO-CNN</text><text x="3702" y="1878">-BiLSTM</text><text x="3702" y="1896">-Attention</text>
<text x="3766" y="1869">CPO-CNN</text><text x="3766" y="1887">-BiLSTM</text>
<text x="3830" y="1869">CPO-</text><text x="3830" y="1887">BiLSTM</text>
<text x="3894" y="1878">CPO-CNN</text><text x="3957" y="1878">BiLSTM</text><text x="4021" y="1878">CNN</text>
</g>
</svg>
</body></html>
